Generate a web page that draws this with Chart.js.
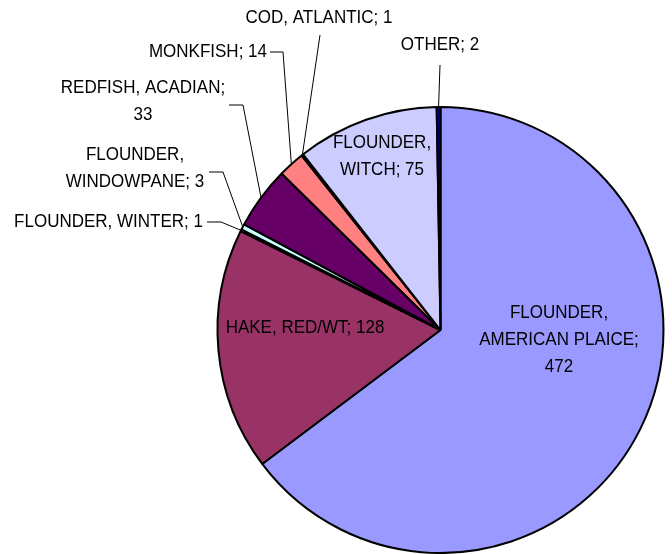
<!DOCTYPE html>
<html>
<head>
<meta charset="utf-8">
<script src="https://cdn.jsdelivr.net/npm/chart.js@4.4.1/dist/chart.umd.min.js"></script>
<style>
  html, body { margin: 0; padding: 0; background: #fff; }
</style>
</head>
<body>
<canvas id="graficaPastel" width="672" height="554"></canvas>
<script>
// datos (orden horario desde las 12)
const especies = ['FLOUNDER, AMERICAN PLAICE', 'HAKE, RED/WT', 'FLOUNDER, WINTER', 'FLOUNDER, WINDOWPANE',
  'REDFISH, ACADIAN', 'MONKFISH', 'COD, ATLANTIC', 'FLOUNDER, WITCH', 'OTHER'];
const capturas = [472, 128, 1, 3, 33, 14, 1, 75, 2];
const colores = ['#9999FF', '#993366', '#FFFFCC', '#CCFFFF', '#660066', '#FF8080', '#0066CC', '#CCCCFF', '#000080'];

// donde va cada etiqueta: x, y de la primera linea, alineacion, como partir el texto, codo de la linea guia
const etiquetas = [
  { x: 559, y: 313, align: 'center', partir: 'todo' },
  { x: 305, y: 328, align: 'center', partir: 'no' },
  { x: 203, y: 222, align: 'right', partir: 'no', guia: [[207, 222], [221, 222]] },
  { x: 135, y: 155, align: 'center', partir: 'coma', guia: [[209, 172], [223, 172]] },
  { x: 143, y: 88, align: 'center', partir: 'valor', guia: [[229, 105], [243, 105]] },
  { x: 267, y: 52, align: 'right', partir: 'no', guia: [[270, 52], [283, 52]] },
  { x: 319, y: 18, align: 'center', partir: 'no', guia: [[320, 35]] },
  { x: 382, y: 143, align: 'center', partir: 'coma' },
  { x: 440, y: 45, align: 'center', partir: 'no', guia: [[440, 65]] },
];

function lineasDe(nombre, valor, modo) {
  const texto = nombre + '; ' + valor;
  if (modo === 'no') return [texto];
  if (modo === 'valor') return [nombre + ';', String(valor)];
  const i = nombre.indexOf(', ');
  if (modo === 'coma') return [nombre.slice(0, i + 1), nombre.slice(i + 2) + '; ' + valor];
  return [nombre.slice(0, i + 1), nombre.slice(i + 2) + ';', String(valor)];
}

const pluginEtiquetas = {
  id: 'etiquetas',
  afterDraw(chart) {
    const ctx = chart.ctx;
    const arcos = chart.getDatasetMeta(0).data;
    ctx.save();
    ctx.font = '17px "Liberation Sans", Arial, sans-serif';
    ctx.fillStyle = '#000';
    ctx.textBaseline = 'middle';
    etiquetas.forEach((et, i) => {
      const lineas = lineasDe(especies[i], capturas[i], et.partir);
      ctx.textAlign = et.align;
      lineas.forEach((l, k) => {
        ctx.save();
        ctx.translate(et.x, et.y + k * 27);
        ctx.scale(1, 1.1); // el texto original es algo mas alto
        ctx.fillText(l, 0, 0);
        ctx.restore();
      });

      if (et.guia) {
        const p = arcos[i].getProps(['x', 'y', 'startAngle', 'endAngle', 'outerRadius'], true);
        const medio = (p.startAngle + p.endAngle) / 2;
        const px = p.x + Math.cos(medio) * p.outerRadius;
        const py = p.y + Math.sin(medio) * p.outerRadius;
        ctx.beginPath();
        ctx.strokeStyle = '#000';
        ctx.lineWidth = 1;
        ctx.moveTo(et.guia[0][0], et.guia[0][1]);
        et.guia.slice(1).forEach(g => ctx.lineTo(g[0], g[1]));
        ctx.lineTo(px, py);
        ctx.stroke();
      }
    });
    ctx.restore();
  }
};

new Chart(document.getElementById('graficaPastel'), {
  type: 'pie',
  data: {
    labels: especies,
    datasets: [{
      data: capturas,
      backgroundColor: colores,
      borderColor: '#000',
      borderWidth: 2,
      radius: 223
    }]
  },
  options: {
    responsive: false,
    animation: false,
    layout: { padding: { left: 209, right: 0, top: 106, bottom: 0 } },
    plugins: {
      legend: { display: false },
      tooltip: { enabled: false }
    }
  },
  plugins: [pluginEtiquetas]
});
</script>
</body>
</html>
